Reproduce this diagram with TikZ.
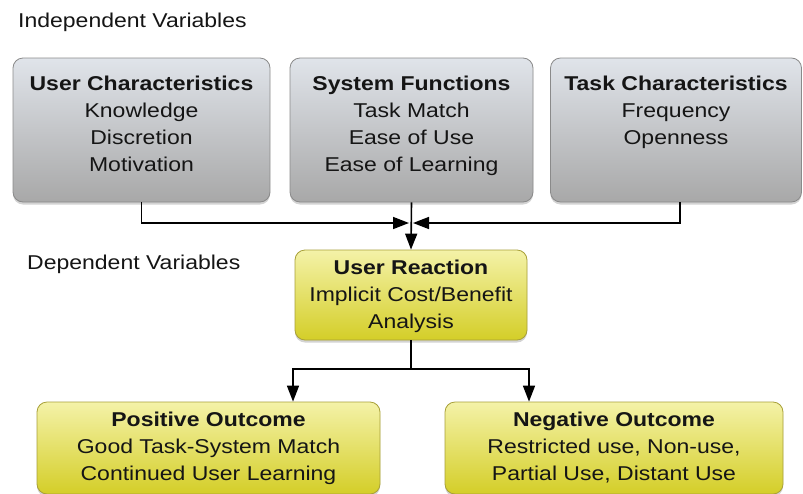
\documentclass[tikz,border=0pt]{standalone}
\usepackage{fontspec}
\setmainfont[FakeStretch=1.15]{Liberation Sans}
\usetikzlibrary{arrows.meta,shadows}

\definecolor{inktext}{HTML}{151515}
\definecolor{greytop}{HTML}{E0E4EA}
\definecolor{greymid}{HTML}{C8CACD}
\definecolor{greybot}{HTML}{A8A8A8}
\definecolor{greyedge}{HTML}{8A8A8A}
\definecolor{yeltop}{HTML}{F4F2A8}
\definecolor{yelmid}{HTML}{E8E460}
\definecolor{yelbot}{HTML}{D4CE28}
\definecolor{yeledge}{HTML}{A8A038}

\tikzset{
  boxfont/.style={font=\fontsize{20}{27}\selectfont, text=inktext},
  panel/.style={rectangle, rounded corners=10pt, line width=0.8pt,
    drop shadow={opacity=0.35, shadow xshift=0pt, shadow yshift=-2.5pt}},
  greybox/.style={panel, draw=greyedge, top color=greytop, middle color=greymid,
    bottom color=greybot},
  yellowbox/.style={panel, draw=yeledge, top color=yeltop, middle color=yelmid,
    bottom color=yelbot},
  boxtext/.style={boxfont, align=center, inner sep=0pt, anchor=north},
  heading/.style={boxfont, inner sep=0pt, anchor=west},
  link/.style={draw=black, line width=1.6pt},
  arrowlink/.style={link, -{Triangle[length=16pt,width=12pt]}},
}

\begin{document}
\begin{tikzpicture}[x=1pt,y=-1pt]
  \useasboundingbox (0,0) rectangle (803,493);

  % section headings
  \node[heading] (indep) at (18,22) {Independent Variables};
  \node[heading] (dep) at (27,264) {Dependent Variables};

  % independent variables
  \node[greybox, minimum width=257pt, minimum height=144pt] (uc) at (141.5,130) {};
  \node[greybox, minimum width=243pt, minimum height=144pt] (sf) at (411.5,130) {};
  \node[greybox, minimum width=251pt, minimum height=144pt] (tc) at (676,130) {};

  \node[boxtext] (uct) at (141.5,76) {\textbf{User Characteristics}\\Knowledge\\Discretion\\Motivation};
  \node[boxtext] (sft) at (411.5,76) {\textbf{System Functions}\\Task Match\\Ease of Use\\Ease of Learning};
  \node[boxtext] (tct) at (676,76) {\textbf{Task Characteristics}\\Frequency\\Openness};

  % dependent variables
  \node[yellowbox, minimum width=232pt, minimum height=90pt] (ur) at (411,295) {};
  \node[boxtext, anchor=center] (urt) at (411,296) {\textbf{User Reaction}\\Implicit Cost/Benefit\\Analysis};

  \node[yellowbox, minimum width=343pt, minimum height=92pt] (po) at (208.5,448) {};
  \node[yellowbox, minimum width=338pt, minimum height=92pt] (no) at (614,448) {};

  \node[boxtext] (pot) at (208.5,412) {\textbf{Positive Outcome}\\Good Task-System Match\\Continued User Learning};
  \node[boxtext] (not) at (614,412) {\textbf{Negative Outcome}\\Restricted use, Non-use,\\Partial Use, Distant Use};

  % junction points
  \coordinate (jl) at (409,223);
  \coordinate (jr) at (413,223);
  \coordinate (sp) at (411,369);
  \coordinate (pin) at (po.north -| 293,0);
  \coordinate (nin) at (no.north -| 529,0);

  % connectors
  \draw[arrowlink] (uc.south) |- (jl);
  \draw[arrowlink] (tc.south -| 680,0) |- (jr);
  \draw[arrowlink] (sf.south) -- (ur.north);
  \draw[link] (ur.south) -- (sp);
  \draw[arrowlink] (sp) -| (pin);
  \draw[arrowlink] (sp) -| (nin);
\end{tikzpicture}
\end{document}
